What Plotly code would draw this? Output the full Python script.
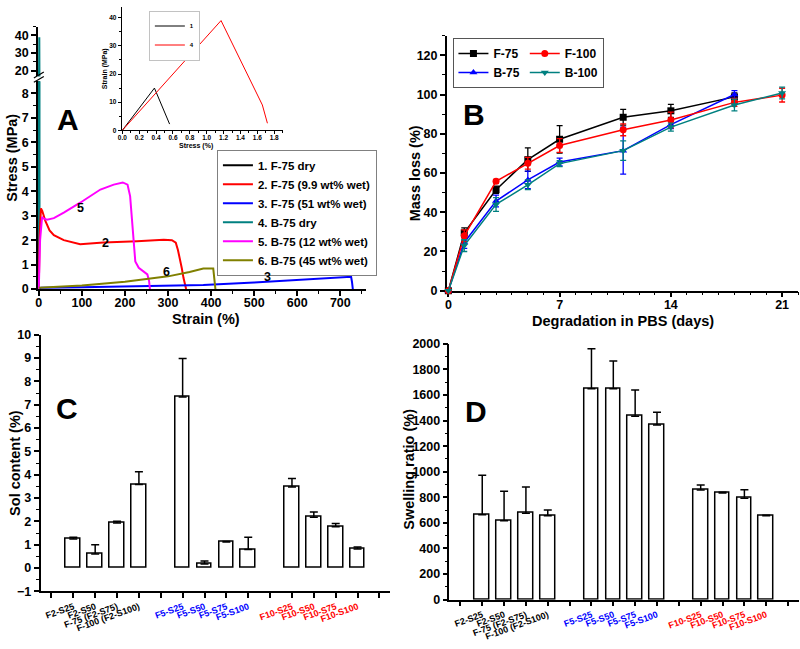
import plotly.graph_objects as go

W, H = 800, 649
FONT = "Arial, Liberation Sans, sans-serif"


def px(x):
    return x / W


def py(y):
    return 1 - y / H


# ---------------- Panel A data (strain %, stress MPa) ----------------
a_names = ["1. F-75 dry", "2. F-75 (9.9 wt% wet)", "3. F-75 (51 wt% wet)",
           "4. B-75 dry", "5. B-75 (12 wt% wet)", "6. B-75 (45 wt% wet)"]
a_colors = ["#000000", "#FF0000", "#0000FF", "#008080", "#FF00FF", "#808000"]

a1_strain = [0, 0.38, 0.56]
a1_stress = [0, 15, 2.2]
a4_strain = [0, 1.17, 1.66, 1.72]
a4_stress = [0, 39, 9, 2.5]
a2_strain = [0, 2, 5, 8, 15, 25, 35, 58, 96, 150, 228, 290, 309, 318, 323, 327, 332, 336, 342]
a2_stress = [0, 2.2, 3.3, 3.2, 2.8, 2.4, 2.2, 2.0, 1.83, 1.9, 1.96, 2.02, 2.0, 1.9, 1.6, 1.3, 0.85, 0.45, 0]
a3_strain = [0, 5, 100, 200, 382, 500, 600, 700, 725, 727, 729]
a3_stress = [0, 0.05, 0.07, 0.1, 0.17, 0.27, 0.37, 0.47, 0.5, 0.3, 0]
a5_strain = [0, 3, 7.7, 12, 19, 35, 58, 96, 143, 174, 195, 206, 212, 216, 220, 224, 232, 243, 252, 256, 258]
a5_stress = [0, 2.0, 2.95, 2.88, 2.84, 2.9, 3.13, 3.53, 4.07, 4.27, 4.36, 4.27, 3.8, 2.87, 1.93, 1.13, 0.87, 0.73, 0.6, 0.33, 0]
a6_strain = [0, 100, 200, 300, 350, 382, 405, 408, 410]
a6_stress = [0.05, 0.15, 0.3, 0.52, 0.7, 0.84, 0.84, 0.4, 0]

a_label_text = ["5", "2", "6", "3"]
a_label_x = [96, 156, 297, 531]
a_label_y = [3.3, 1.9, 0.7, 0.49]

inset_names = ["1", "4"]
inset_colors = ["#000000", "#FF0000"]

# ---------------- Panel B data ----------------
b_days = [0, 1, 3, 5, 7, 11, 14, 18, 21]
b_f75 = [0, 29.5, 51.5, 66.8, 77.2, 88.4, 91.7, 98.8, None]
b_f75_err = [0, 2.5, 1.8, 6, 7, 4, 3.3, 2, None]
b_f100 = [0, 28, 55.8, 65, 74, 82, 87, 96, 99.7]
b_f100_err = [0, 3, 1, 3, 3.5, 3, 4, 2, 3.5]
b_b75 = [0, 24.6, 45.7, 56.5, 65.6, 71.4, 84.7, 100, None]
b_b75_err = [0, 3, 3, 4.5, 2, 12, 2, 2, None]
b_b100 = [0, 23, 44, 54, 64.8, 71.4, 83.4, 94.7, 100.8]
b_b100_err = [0, 3, 3.5, 2.5, 1.5, 5, 2, 3, 3]

# ---------------- Panels C & D data ----------------
cd_groups = [
    ["F2-S25", "F2-S50", "F-75 (F2-S75)", "F-100 (F2-S100)"],
    ["F5-S25", "F5-S50", "F5-S75", "F5-S100"],
    ["F10-S25", "F10-S50", "F10-S75", "F10-S100"],
]
cd_group_colors = ["#000000", "#0000FF", "#FF0000"]
c_sol = [1.25, 0.6, 1.93, 3.58, 7.33, 0.17, 1.12, 0.8, 3.48, 2.18, 1.77, 0.82]
c_sol_err = [0.07, 0.4, 0.08, 0.55, 1.65, 0.13, 0.02, 0.52, 0.36, 0.22, 0.14, 0.08]
d_swell = [663, 617, 676, 655, 1650, 1650, 1434, 1365, 857, 834, 793, 655]
d_swell_err = [310, 230, 205, 45, 312, 217, 205, 100, 40, 5, 67, 5]

# positions of bars (groups separated by one empty slot)
cd_pos, cd_labels = [], []
for gi, grp in enumerate(cd_groups):
    for li, lab in enumerate(grp):
        cd_pos.append(gi * 5 + li + 1)
        cd_labels.append(f'<span style="color:{cd_group_colors[gi]}">{lab}</span>')
tick_vals = list(range(16))
tick_text = [cd_labels[cd_pos.index(v)] if v in cd_pos else "" for v in tick_vals]

fig = go.Figure()

# ---- Panel A main traces ----
fig.add_trace(go.Scatter(x=a1_strain, y=a1_stress, mode="lines", name=a_names[0],
                         line=dict(color=a_colors[0], width=2), xaxis="x", yaxis="y",
                         legend="legend", legendrank=1))
fig.add_trace(go.Scatter(x=a4_strain, y=a4_stress, mode="lines", name=a_names[3],
                         line=dict(color=a_colors[3], width=2), xaxis="x", yaxis="y",
                         legend="legend", legendrank=4))
fig.add_trace(go.Scatter(x=a1_strain, y=a1_stress, mode="lines", showlegend=False,
                         line=dict(color=a_colors[0], width=2), xaxis="x", yaxis="y2"))
fig.add_trace(go.Scatter(x=a4_strain, y=a4_stress, mode="lines", showlegend=False,
                         line=dict(color=a_colors[3], width=2), xaxis="x", yaxis="y2"))
for nm, col, xs, ys, rk in [
    (a_names[1], a_colors[1], a2_strain, a2_stress, 2),
    (a_names[2], a_colors[2], a3_strain, a3_stress, 3),
    (a_names[4], a_colors[4], a5_strain, a5_stress, 5),
    (a_names[5], a_colors[5], a6_strain, a6_stress, 6),
]:
    fig.add_trace(go.Scatter(x=xs, y=ys, mode="lines", name=nm,
                             line=dict(color=col, width=2), xaxis="x", yaxis="y",
                             legend="legend", legendrank=rk))

# ---- Inset traces ----
fig.add_trace(go.Scatter(x=a1_strain, y=a1_stress, mode="lines", name=inset_names[0],
                         line=dict(color=inset_colors[0], width=1), xaxis="x3", yaxis="y3",
                         legend="legend3"))
fig.add_trace(go.Scatter(x=a4_strain, y=a4_stress, mode="lines", name=inset_names[1],
                         line=dict(color=inset_colors[1], width=1), xaxis="x3", yaxis="y3",
                         legend="legend3"))

# ---- Panel B traces ----
b_series = [
    ("F-75", b_f75, b_f75_err, "#000000", "square", "g75"),
    ("B-75", b_b75, b_b75_err, "#0000FF", "triangle-up", "g75"),
    ("F-100", b_f100, b_f100_err, "#FF0000", "circle", "g100"),
    ("B-100", b_b100, b_b100_err, "#008080", "triangle-down", "g100"),
]
for nm, ys, err, col, sym, grp in b_series:
    fig.add_trace(go.Scatter(
        x=b_days, y=ys, mode="lines+markers", name=nm,
        line=dict(color=col, width=1.5),
        marker=dict(symbol=sym, size=7, color=col),
        error_y=dict(type="data", array=err, visible=True, color=col, thickness=1.3, width=3),
        xaxis="x4", yaxis="y4", legend="legend2", legendgroup=grp, cliponaxis=False))

# ---- Panel C & D bars ----
fig.add_trace(go.Bar(x=cd_pos, y=c_sol, width=0.67, showlegend=False,
                     marker=dict(color="white", line=dict(color="black", width=1.5)),
                     error_y=dict(type="data", array=c_sol_err, arrayminus=[0] * len(c_sol_err),
                                  symmetric=False, color="black", thickness=1.5, width=4),
                     xaxis="x5", yaxis="y5"))
fig.add_trace(go.Bar(x=cd_pos, y=d_swell, width=0.67, showlegend=False,
                     marker=dict(color="white", line=dict(color="black", width=1.5)),
                     error_y=dict(type="data", array=d_swell_err, arrayminus=[0] * len(d_swell_err),
                                  symmetric=False, color="black", thickness=1.5, width=4),
                     xaxis="x6", yaxis="y6"))

tickfont = dict(family=FONT, size=12.5, color="black", weight="bold")
base_ax = dict(showline=True, linecolor="black", linewidth=1.5, showgrid=False, zeroline=False,
               ticks="outside", tickcolor="black", tickwidth=1.5, ticklen=5, tickfont=tickfont,
               layer="below traces")


def ax(**kw):
    d = dict(base_ax)
    d.update(kw)
    return d


def minor(dt):
    return dict(dtick=dt, ticks="outside", ticklen=3, tickcolor="black", tickwidth=1)


a_lo_top = 76
a_up_bot = 71
layout_axes = dict(
    xaxis=ax(domain=[px(34.1), px(364)], range=[-2, 760], dtick=100, minor=minor(50), anchor="y",
             ticklabelstandoff=-4),
    yaxis=ax(domain=[py(288.3), py(a_lo_top)], range=[0, (288.3 - a_lo_top) / 25], dtick=1,
             minor=minor(0.5), anchor="x"),
    yaxis2=ax(domain=[py(a_up_bot), py(20)], range=[20 - (a_up_bot - 65) / 1.8, 20 + 45 / 1.8],
              tickvals=[20, 30, 40], minor=minor(5), anchor="x"),
    xaxis3=ax(domain=[px(118.3), px(280)], range=[-0.008, 1.9], dtick=0.2, tickformat=".1f",
              minor=dict(dtick=0.1, ticks="outside", ticklen=2, tickcolor="black", tickwidth=0.8),
              linewidth=1, tickwidth=1, ticklen=3, anchor="y3", ticklabelstandoff=-2,
              tickfont=dict(family=FONT, size=6.5, color="black", weight="bold")),
    yaxis3=ax(domain=[py(126), 1.0], range=[0, 126 / 2.875], dtick=10,
              minor=dict(dtick=5, ticks="outside", ticklen=2, tickcolor="black", tickwidth=0.8),
              linewidth=1, tickwidth=1, ticklen=3, anchor="x3",
              tickfont=dict(family=FONT, size=6.5, color="black", weight="bold")),
    xaxis4=ax(domain=[px(445), px(798)], range=[-0.1, 22], dtick=7, minor=minor(1), anchor="y4",
              ticklabelstandoff=-3),
    yaxis4=ax(domain=[py(290), py(29.3)], range=[0, 130], dtick=20, minor=minor(10), anchor="x4"),
    xaxis5=ax(domain=[px(36.7), px(388.3)], range=[-0.5, 15.5], tickmode="array",
              tickvals=tick_vals, ticktext=tick_text, tickangle=-20, anchor="y5",
              tickfont=dict(family=FONT, size=9, color="black", weight="bold")),
    yaxis5=ax(domain=[py(597.3), py(335)], range=[-1, 10], dtick=1, minor=minor(0.5), anchor="x5"),
    xaxis6=ax(domain=[px(447.7), px(799)], range=[-0.5, 15.5], tickmode="array",
              tickvals=tick_vals, ticktext=tick_text, tickangle=-20, anchor="y6",
              tickfont=dict(family=FONT, size=9, color="black", weight="bold")),
    yaxis6=ax(domain=[py(605.7), py(344.3)], range=[0, 2000], dtick=200, minor=minor(100), anchor="x6"),
)

annotations = []


def txt(x, y, s, size, rot=0, xref="paper", yref="paper"):
    annotations.append(dict(x=x, y=y, xref=xref, yref=yref, text=s, showarrow=False,
                            textangle=rot, xanchor="center", yanchor="middle",
                            font=dict(family=FONT, size=size, color="black", weight="bold")))


# axis titles
txt(px(203), py(319), "Strain (%)", 14.5)
txt(px(8), py(154), "Stress (MPa)", 14.5, -90)
txt(px(193), py(142), "Stress (%)", 7)
txt(px(101), py(63), "Strain (MPa)", 7, -90)
txt(px(622), py(321), "Degradation in PBS (days)", 14.5)
txt(px(413), py(170), "Mass loss (%)", 14.5, -90)
txt(px(11), py(466), "Sol content (%)", 14.5, -90)
txt(px(407), py(472), "Swelling ratio (%)", 14.5, -90)
# panel letters
txt(px(64), py(115), "A", 30)
txt(px(472), py(110), "B", 30)
txt(px(63), py(410), "C", 30)
txt(px(474), py(413), "D", 30)
# curve labels
for s, xv, yv in zip(a_label_text, a_label_x, a_label_y):
    txt(xv, yv, s, 12.5, xref="x", yref="y")

# axis break marks
shapes = []
for dy in (0, -4.5):
    shapes.append(dict(type="line", xref="paper", yref="paper",
                       x0=px(30), y0=py(77 + dy), x1=px(40), y1=py(71 + dy),
                       line=dict(color="black", width=1.2)))

legfont = dict(family=FONT, size=11.5, color="black", weight="bold")
fig.update_layout(
    width=W, height=H, autosize=False,
    margin=dict(l=0, r=0, t=0, b=0, pad=0),
    paper_bgcolor="white", plot_bgcolor="rgba(0,0,0,0)",
    font=dict(family=FONT, color="black"),
    annotations=annotations, shapes=shapes,
    bargap=0,
    legend=dict(x=px(214), y=py(146), xanchor="left", yanchor="top", bgcolor="white",
                bordercolor="#808080", borderwidth=1, font=legfont, traceorder="normal",
                tracegroupgap=0),
    legend2=dict(x=px(451.7), y=py(31.7), xanchor="left", yanchor="top", bgcolor="white",
                 bordercolor="#555555", borderwidth=1, orientation="h", traceorder="grouped",
                 font=dict(family=FONT, size=12, color="black", weight="bold"), tracegroupgap=0),
    legend3=dict(x=px(146), y=py(4), xanchor="left", yanchor="top", bgcolor="white",
                 bordercolor="#999999", borderwidth=0.6,
                 font=dict(family=FONT, size=6, color="black", weight="bold")),
    **layout_axes,
)

fig.write_html("out.html", config={"displayModeBar": False},
               post_script="document.body.style.margin='0px';")
